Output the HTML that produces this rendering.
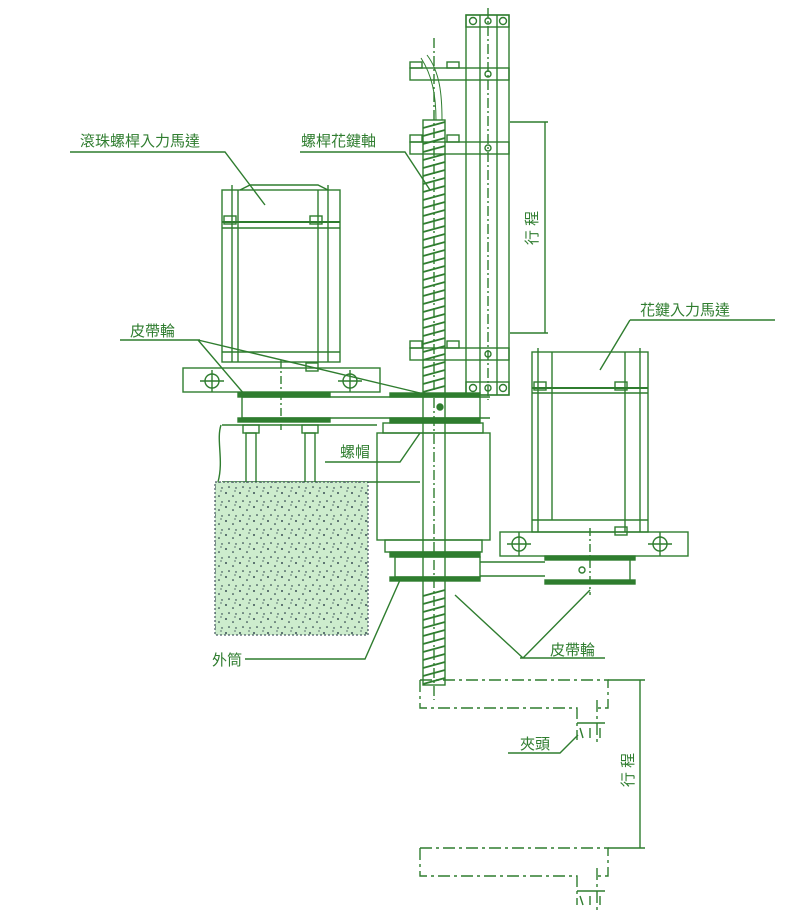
<!DOCTYPE html>
<html><head><meta charset="utf-8"><style>
html,body{margin:0;padding:0;background:#fff}
svg{display:block}
text{font-family:"Liberation Sans","Noto Sans CJK TC",sans-serif;fill:#2f7d2f;font-size:15px}
</style></head><body>
<svg width="800" height="924" viewBox="0 0 800 924" xmlns="http://www.w3.org/2000/svg">
<defs>
<pattern id="sp" width="14" height="14" patternUnits="userSpaceOnUse">
<rect width="14" height="14" fill="#cdeccd"/>
<circle cx="2" cy="3" r="0.9" fill="#123"/><circle cx="9" cy="6" r="0.8" fill="#123"/>
<circle cx="5" cy="11" r="0.8" fill="#123"/><circle cx="12" cy="12" r="0.7" fill="#123"/><circle cx="11" cy="1" r="0.6" fill="#123"/>
</pattern>
</defs>
<g stroke="#2f7d2f" fill="none" stroke-width="1.4">
<rect x="466" y="15" width="43" height="380"/>
<line x1="480" y1="15" x2="480" y2="395"/><line x1="497" y1="15" x2="497" y2="395"/>
<line x1="488" y1="8" x2="488" y2="400" stroke-dasharray="10,3,2,3"/>
<rect x="466" y="15" width="43" height="12"/><rect x="466" y="382" width="43" height="13"/>
<circle cx="473" cy="21" r="3.5"/><circle cx="488" cy="21" r="3"/><circle cx="503" cy="21" r="3.5"/>
<circle cx="473" cy="388" r="3.5"/><circle cx="488" cy="388" r="3"/><circle cx="503" cy="388" r="3.5"/>
<rect x="410" y="68" width="99" height="12"/><rect x="410" y="62" width="12" height="6"/><rect x="447" y="62" width="12" height="6"/>
<rect x="410" y="142" width="99" height="12"/><rect x="410" y="135" width="12" height="7"/><rect x="447" y="135" width="12" height="7"/>
<rect x="410" y="348" width="99" height="12"/><rect x="410" y="341" width="12" height="7"/><rect x="447" y="341" width="12" height="7"/>
<circle cx="488" cy="74" r="3"/><circle cx="488" cy="148" r="3"/><circle cx="488" cy="354" r="3"/>
<line x1="510" y1="122" x2="548" y2="122"/><line x1="510" y1="333" x2="548" y2="333"/>
<line x1="545" y1="122" x2="545" y2="333"/>
<path d="M421 58 C432 75 436 95 436 120" stroke-width="1"/><path d="M427 55 C440 72 442 95 442 120" stroke-width="1"/>
<rect x="423" y="120" width="22" height="565"/>
<line x1="434" y1="38" x2="434" y2="700" stroke-dasharray="10,3,2,3"/>
</g>
<g stroke="#2f7d2f" stroke-width="1.8" fill="none">
<path d="M423 128 L445 122 M423 136 L445 130 M423 144 L445 138 M423 152 L445 146 M423 160 L445 154 M423 168 L445 162 M423 176 L445 170 M423 184 L445 178 M423 192 L445 186 M423 200 L445 194 M423 208 L445 202 M423 216 L445 210 M423 224 L445 218 M423 232 L445 226 M423 240 L445 234 M423 248 L445 242 M423 256 L445 250 M423 264 L445 258 M423 272 L445 266 M423 280 L445 274 M423 288 L445 282 M423 296 L445 290 M423 304 L445 298 M423 312 L445 306 M423 320 L445 314 M423 328 L445 322 M423 336 L445 330 M423 344 L445 338 M423 352 L445 346 M423 360 L445 354 M423 368 L445 362 M423 376 L445 370 M423 384 L445 378 M423 392 L445 386"/>
<path d="M423 596 L445 590 M423 604 L445 598 M423 612 L445 606 M423 620 L445 614 M423 628 L445 622 M423 636 L445 630 M423 644 L445 638 M423 652 L445 646 M423 660 L445 654 M423 668 L445 662 M423 676 L445 670 M423 684 L445 678"/>
</g>
<g stroke="#2f7d2f" fill="none" stroke-width="1.4">
<rect x="222" y="190" width="118" height="172"/>
<line x1="222" y1="222" x2="340" y2="222" stroke-width="2"/>
<line x1="222" y1="228" x2="340" y2="228"/>
<line x1="232" y1="185" x2="232" y2="362"/><line x1="238" y1="190" x2="238" y2="362"/>
<line x1="318" y1="190" x2="318" y2="362"/><line x1="328" y1="185" x2="328" y2="362"/>
<line x1="222" y1="352" x2="340" y2="352"/>
<path d="M240 190 L250 185 L318 185 L328 190"/>
<rect x="224" y="216" width="12" height="8"/><rect x="310" y="216" width="12" height="8"/>
<rect x="306" y="363" width="12" height="8"/>
<rect x="183" y="368" width="197" height="24"/>
<circle cx="212" cy="381" r="7"/><line x1="200" y1="381" x2="224" y2="381"/><line x1="212" y1="370" x2="212" y2="392"/>
<circle cx="350" cy="381" r="7"/><line x1="338" y1="381" x2="362" y2="381"/><line x1="350" y1="370" x2="350" y2="392"/>
<line x1="281" y1="360" x2="281" y2="430" stroke-dasharray="8,3,2,3"/>
<rect x="238" y="393" width="92" height="4" fill="#2f7d2f"/>
<rect x="238" y="418" width="92" height="4" fill="#2f7d2f"/>
<line x1="242" y1="397" x2="490" y2="397"/><line x1="242" y1="418" x2="490" y2="418"/>
<line x1="242" y1="397" x2="242" y2="418"/>
<rect x="390" y="393" width="90" height="4" fill="#2f7d2f"/>
<rect x="390" y="418" width="90" height="5" fill="#2f7d2f"/>
<line x1="480" y1="397" x2="480" y2="418"/>
<circle cx="440" cy="407" r="3" fill="#2f7d2f"/>
<rect x="383" y="423" width="100" height="10"/>
<rect x="377" y="433" width="113" height="107"/>
<rect x="385" y="540" width="97" height="12"/>
<rect x="390" y="552" width="90" height="5" fill="#2f7d2f"/>
<rect x="395" y="557" width="85" height="20"/>
<rect x="390" y="577" width="90" height="4" fill="#2f7d2f"/>
<line x1="480" y1="562" x2="545" y2="562"/><line x1="480" y1="576" x2="545" y2="576"/>
<line x1="222" y1="425" x2="377" y2="425"/>
<line x1="222" y1="482" x2="420" y2="482"/>
<path d="M221 425 C216 440 224 460 218 482"/>
<rect x="243" y="425" width="16" height="8"/><rect x="302" y="425" width="16" height="8"/>
<rect x="246" y="433" width="10" height="67"/><rect x="305" y="433" width="10" height="67"/>
<rect x="532" y="352" width="116" height="180"/>
<line x1="532" y1="388" x2="648" y2="388" stroke-width="2"/>
<line x1="532" y1="393" x2="648" y2="393"/>
<line x1="538" y1="348" x2="538" y2="532"/><line x1="552" y1="352" x2="552" y2="520"/>
<line x1="625" y1="352" x2="625" y2="532"/><line x1="640" y1="348" x2="640" y2="532"/>
<line x1="532" y1="520" x2="648" y2="520"/>
<rect x="534" y="382" width="12" height="8"/><rect x="615" y="382" width="12" height="8"/><rect x="615" y="527" width="12" height="8"/>
<rect x="500" y="532" width="188" height="24"/>
<circle cx="519" cy="544" r="7"/><line x1="507" y1="544" x2="531" y2="544"/><line x1="519" y1="532" x2="519" y2="556"/>
<circle cx="660" cy="544" r="7"/><line x1="648" y1="544" x2="672" y2="544"/><line x1="660" y1="532" x2="660" y2="556"/>
<line x1="590" y1="528" x2="590" y2="595" stroke-dasharray="8,3,2,3"/>
<rect x="545" y="556" width="90" height="4" fill="#2f7d2f"/>
<rect x="545" y="580" width="90" height="4" fill="#2f7d2f"/>
<line x1="630" y1="560" x2="630" y2="580"/>
<circle cx="582" cy="570" r="3"/>
</g>
<rect x="215" y="482" width="153" height="153" fill="url(#sp)" stroke="#234" stroke-dasharray="2,2"/>
<g stroke="#2f7d2f" fill="none" stroke-width="1.4">
<g stroke-dasharray="12,4,3,4">
<path d="M420 680 L608 680 L608 708 L597 708 M420 680 L420 708 L577 708 L577 740"/>
<path d="M420 848 L608 848 L608 876 L597 876 M420 848 L420 876 L577 876 L577 905"/>
<line x1="597" y1="700" x2="597" y2="745"/><line x1="597" y1="868" x2="597" y2="912"/>
</g>
<path d="M577 723 L605 723 M580 728 L583 738 M590 728 L590 738 M600 728 L600 738"/>
<path d="M577 891 L605 891 M580 896 L583 905 M590 896 L590 905 M600 896 L600 905"/>
<line x1="608" y1="680" x2="645" y2="680"/><line x1="608" y1="848" x2="645" y2="848"/>
<line x1="640" y1="680" x2="640" y2="848"/>
<path d="M70 152 L225 152 L265 205"/>
<path d="M300 152 L405 152 L430 190"/>
<path d="M630 320 L775 320 M630 320 L600 370"/>
<path d="M120 340 L200 340 M198 340 L245 395 M198 340 L420 393"/>
<path d="M325 462 L400 462 L420 433"/>
<path d="M245 659 L365 659 L400 580"/>
<path d="M520 658 L605 658 M523 658 L455 595 M523 658 L590 590"/>
<path d="M508 753 L560 753 L578 735"/>
</g>
<text x="80" y="146">滾珠螺桿入力馬達</text>
<text x="301" y="146">螺桿花鍵軸</text>
<text x="640" y="315">花鍵入力馬達</text>
<text x="130" y="336">皮帶輪</text>
<text x="340" y="457">螺帽</text>
<text x="212" y="665">外筒</text>
<text x="550" y="655">皮帶輪</text>
<text x="520" y="749">夾頭</text>
<text transform="translate(537,228) rotate(-90)" text-anchor="middle">行 程</text>
<text transform="translate(633,770) rotate(-90)" text-anchor="middle">行 程</text>
</svg>
</body></html>
